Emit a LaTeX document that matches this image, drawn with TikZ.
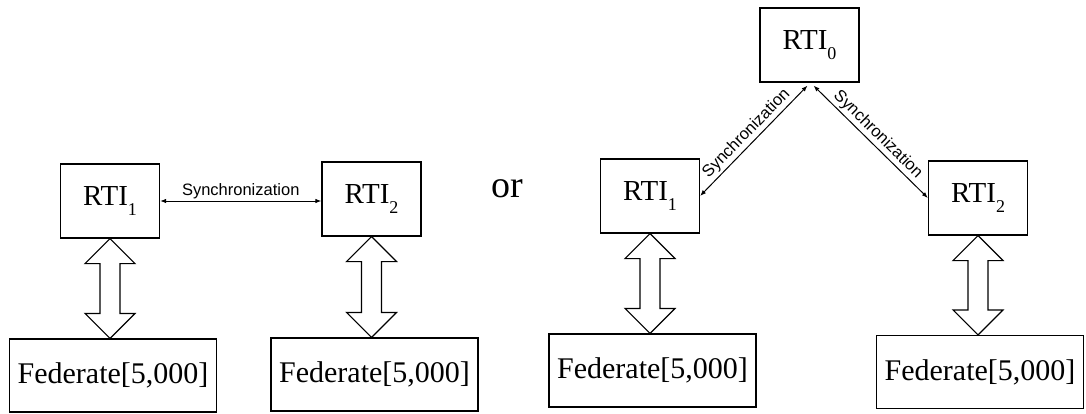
\documentclass[tikz,border=0pt]{standalone}
\usepackage{fontspec}
\setmainfont{Liberation Serif}
\newfontfamily\syncfont{Liberation Sans}
\usetikzlibrary{arrows.meta,calc}

% RTI label with a lowered index
\newcommand\rtiname[1]{\fontsize{29}{29}\selectfont RTI\raisebox{-0.33em}{\fontsize{18}{18}\selectfont #1}}

\tikzset{
  box/.style={draw, line width=1.2pt, inner sep=0pt, align=center},
  rtibox/.style={box, minimum width=99pt, minimum height=74pt},
  fedbox/.style={box, minimum width=207pt, minimum height=73pt, font=\fontsize{30}{30}\selectfont},
  hollow/.style={draw, line width=1.2pt, fill=white, line join=miter},
  sync/.style={line width=1pt, {Latex[length=6pt,width=4.5pt]}-{Latex[length=6pt,width=4.5pt]}},
  synclabel/.style={font=\syncfont\fontsize{16.5}{16.5}\selectfont, inner sep=2pt}
}

% wide hollow double-headed arrow from the bottom of one box to the top of another
\newcommand\duplex[2]{%
  \path[hollow] let \p1=(#1.south), \p2=(#2.north) in
    (\x1,\y1) -- (\x1+25,\y1-25) -- (\x1+10,\y1-25) -- (\x1+10,\y2+25)
    -- (\x1+25,\y2+25) -- (\x1,\y2) -- (\x1-25,\y2+25) -- (\x1-10,\y2+25)
    -- (\x1-10,\y1-25) -- (\x1-25,\y1-25) -- cycle;}

\begin{document}
\begin{tikzpicture}[x=1pt, y=-1pt]
\useasboundingbox (0,0) rectangle (1086,414);

% two RTIs linked directly
\node[rtibox] (l1) at (110,201) {\rtiname{1}};
\node[rtibox] (l2) at (371.5,199) {\rtiname{2}};
\node[fedbox] (f1) at (113,375.5) {Federate[5,000]};
\node[fedbox] (f2) at (374.5,374.5) {Federate[5,000]};

\draw[sync] (l1.east) -- (l1.east -| l2.west)
  node[midway, above, synclabel] {Synchronization};

\duplex{l1}{f1}
\duplex{l2}{f2}

\node[font=\fontsize{38}{38}\selectfont] (or) at (507,189) {or};

% hierarchy rooted at RTI_0
\node[rtibox] (r0) at (809.5,45) {\rtiname{0}};
\node[rtibox] (r1) at (650,196) {\rtiname{1}};
\node[rtibox] (r2) at (978,198) {\rtiname{2}};
\node[fedbox] (f3) at (652.5,370.5) {Federate[5,000]};
\node[fedbox] (f4) at (980,372) {Federate[5,000]};

\coordinate (r0l) at ($(r0.south)+(-2,3)$);
\coordinate (r0r) at ($(r0.south)+(4,3)$);
\draw[sync] (r1.east) -- (r0l)
  node[midway, sloped, above, synclabel] {Synchronization};
\draw[sync] (r0r) -- (r2.west)
  node[midway, sloped, above, synclabel] {Synchronization};

\duplex{r1}{f3}
\duplex{r2}{f4}
\end{tikzpicture}
\end{document}
